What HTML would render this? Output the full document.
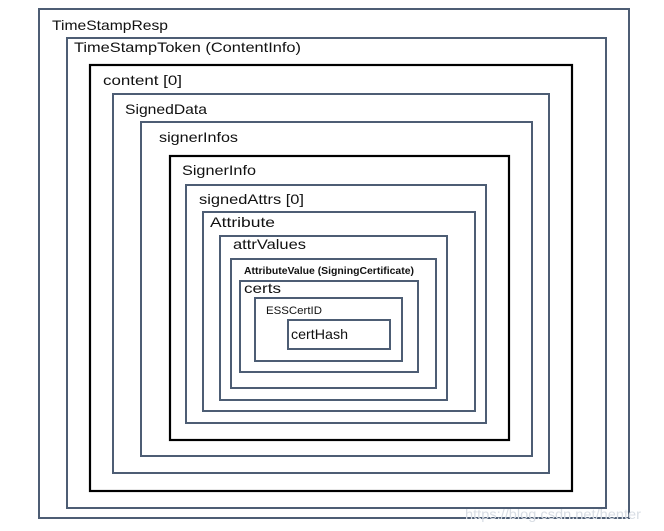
<!DOCTYPE html>
<html><head><style>html,body{margin:0;padding:0;background:#fff;}svg{display:block}</style></head>
<body>
<svg width="664" height="531" xmlns="http://www.w3.org/2000/svg" font-family="Liberation Sans, sans-serif" fill="none">
<g stroke="#4d5d74" stroke-width="2">
<rect x="39" y="9" width="590" height="509"/>
<rect x="67" y="38" width="539" height="470"/>
<rect x="113" y="94" width="436" height="379"/>
<rect x="141" y="122" width="391" height="334"/>
<rect x="186" y="185" width="300" height="238"/>
<rect x="203" y="212" width="272" height="199"/>
<rect x="220" y="236" width="227" height="164"/>
<rect x="231" y="259" width="205" height="129"/>
<rect x="240" y="281" width="178" height="91"/>
<rect x="255" y="298" width="147" height="63"/>
<rect x="288" y="320" width="102" height="29"/>
</g>
<g stroke="#000" stroke-width="2.2">
<rect x="90" y="65" width="482" height="426"/>
<rect x="170" y="156" width="339" height="284"/>
</g>
<g fill="#111" font-size="14">
<text x="52" y="30" textLength="116" lengthAdjust="spacingAndGlyphs">TimeStampResp</text>
<text x="74" y="52" textLength="227" lengthAdjust="spacingAndGlyphs">TimeStampToken (ContentInfo)</text>
<text x="103" y="85" textLength="79" lengthAdjust="spacingAndGlyphs">content [0]</text>
<text x="125" y="114" textLength="82" lengthAdjust="spacingAndGlyphs">SignedData</text>
<text x="159" y="142" textLength="79" lengthAdjust="spacingAndGlyphs">signerInfos</text>
<text x="182" y="175" textLength="74" lengthAdjust="spacingAndGlyphs">SignerInfo</text>
<text x="199" y="204" textLength="105" lengthAdjust="spacingAndGlyphs">signedAttrs [0]</text>
<text x="210" y="227" textLength="65" lengthAdjust="spacingAndGlyphs">Attribute</text>
<text x="233" y="249" textLength="73" lengthAdjust="spacingAndGlyphs">attrValues</text>
<text x="244" y="274" font-size="10" font-weight="bold" textLength="170" lengthAdjust="spacingAndGlyphs">AttributeValue (SigningCertificate)</text>
<text x="244" y="293" textLength="37" lengthAdjust="spacingAndGlyphs">certs</text>
<text x="266" y="314" font-size="11" textLength="56" lengthAdjust="spacingAndGlyphs">ESSCertID</text>
<text x="291" y="339" textLength="57" lengthAdjust="spacingAndGlyphs">certHash</text>
</g>
<text x="465" y="519" font-size="14" fill="#d8dde4" textLength="176" lengthAdjust="spacingAndGlyphs">https://blog.csdn.net/henter</text>
</svg>
</body></html>
